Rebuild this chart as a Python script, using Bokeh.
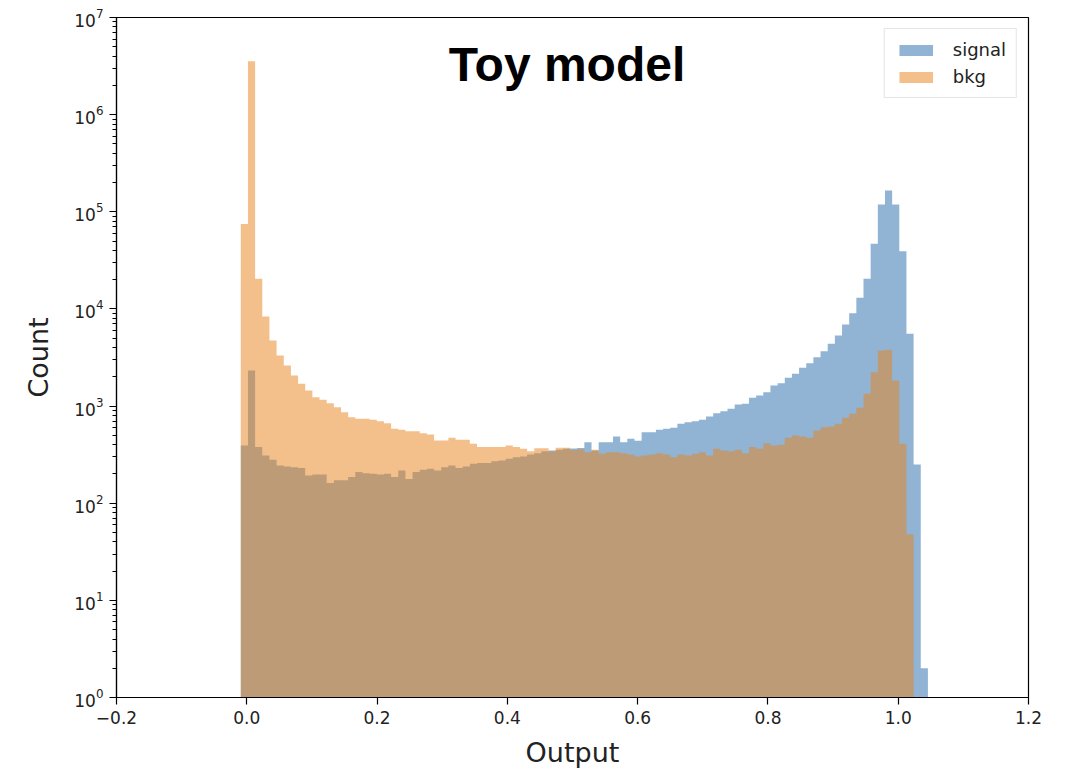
import numpy as np
from bokeh.plotting import figure
from bokeh.models import Range1d, Label, FixedTicker, CustomJSTickFormatter, LogTicker, Legend, LegendItem
from bokeh.embed import file_html
from bokeh.resources import INLINE

# ---- data ----
BIN_LO = -0.0092
BIN_HI = 1.0456
N_BINS = 96

signal_counts = [
    393, 2324, 378, 310, 280, 245, 239, 235, 231, 193,
    198, 198, 161, 172, 172, 186, 209, 204, 201, 198,
    201, 186, 217, 178, 209, 221, 226, 217, 235, 245,
    231, 239, 255, 259, 259, 271, 275, 287, 298, 303,
    318, 327, 343, 349, 355, 363, 365, 370, 425, 349,
    425, 425, 486, 425, 460, 440, 538, 538, 570, 583,
    597, 656, 683, 699, 722, 781, 845, 887, 938, 1038,
    1055, 1217, 1285, 1390, 1629, 1721, 1954, 2149, 2477, 2765,
    3186, 3675, 4376, 5329, 6921, 9043, 13000, 20400, 46800, 119000,
    165700, 119000, 39300, 5547, 250, 2,
]

bkg_counts = [
    75000, 3550000, 20400, 8360, 4730, 3315, 2617, 2065, 1694, 1446,
    1234, 1161, 1071, 975, 865, 769, 740, 740, 722, 699,
    667, 584, 569, 551, 551, 525, 510, 442, 442, 471,
    450, 450, 409, 378, 378, 378, 378, 393, 378, 363,
    343, 369, 369, 343, 372, 372, 352, 360, 335, 355,
    323, 335, 335, 327, 318, 303, 310, 318, 327, 318,
    298, 318, 310, 323, 335, 310, 363, 349, 343, 355,
    327, 378, 363, 415, 393, 400, 471, 498, 486, 471,
    560, 607, 617, 656, 757, 832, 960, 1337, 2233, 3735,
    3795, 1833, 409, 48, 0, 0,
]

series_names = ["signal", "bkg"]
series_colors = ["#2569a9", "#e78119"]
x_ticks = [-0.2, 0.0, 0.2, 0.4, 0.6, 0.8, 1.0, 1.2]
title_text = "Toy model"
x_label = "Output"
y_label = "Count"

edges = np.linspace(BIN_LO, BIN_HI, N_BINS + 1)


def step_source(counts):
    c = np.asarray(counts, dtype=float)
    c = np.where(c > 0, c, 1.0)          # empty bins sit on the axis floor (log scale)
    y = np.append(c, c[-1])
    return dict(x=edges, y1=np.ones(len(edges)), y2=y)


p = figure(
    width=1067, height=771,
    frame_width=912, frame_height=680,
    x_range=Range1d(-0.2, 1.2), y_range=Range1d(1, 1e7),
    y_axis_type="log",
    output_backend="svg", toolbar_location=None,
    min_border_left=116, min_border_right=39, min_border_top=17, min_border_bottom=74,
)
p.background_fill_color = "white"
p.border_fill_color = "white"
p.outline_line_color = "black"
p.outline_line_width = 1.2
p.xgrid.visible = False
p.ygrid.visible = False

r_sig = p.varea_step(source=step_source(signal_counts), x="x", y1="y1", y2="y2", step_mode="after",
                     fill_color=series_colors[0], fill_alpha=0.5)
r_bkg = p.varea_step(source=step_source(bkg_counts), x="x", y1="y1", y2="y2", step_mode="after",
                     fill_color=series_colors[1], fill_alpha=0.5)

# axes
xa = p.xaxis[0]
xa.ticker = FixedTicker(ticks=x_ticks)
xa.formatter = CustomJSTickFormatter(code="return (tick < -1e-9 ? '\u2212' : '') + Math.abs(tick).toFixed(1);")
ya = p.yaxis[0]
ya.ticker = LogTicker(num_minor_ticks=10)

for ax in (xa, ya):
    ax.axis_line_color = "black"
    ax.axis_line_width = 1.2
    ax.major_tick_line_color = "black"
    ax.major_tick_line_width = 1.2
    ax.major_tick_in = 0
    ax.major_tick_out = 7
    ax.minor_tick_line_color = "black"
    ax.minor_tick_in = 0
    ax.minor_tick_out = 4
    ax.major_label_text_font = "DejaVu Sans"
    ax.major_label_text_font_size = "17px"
    ax.major_label_text_color = "#222222"
    ax.major_label_standoff = 6
    ax.axis_label_text_font = "DejaVu Sans"
    ax.axis_label_text_font_size = "27px"
    ax.axis_label_text_font_style = "normal"
    ax.axis_label_text_color = "#222222"
    ax.axis_label_standoff = 10
xa.minor_tick_line_color = None
ya.axis_label_standoff = 17
xa.axis_label = x_label
ya.axis_label = y_label

# title inside plot
p.add_layout(Label(x=0.4916, y=10 ** 6.52, text=title_text, text_align="center",
                   text_baseline="alphabetic", text_font="Liberation Sans",
                   text_font_style="bold", text_font_size="48px", text_color="black"))

legend = Legend(items=[LegendItem(label=series_names[0], renderers=[r_sig]),
                       LegendItem(label=series_names[1], renderers=[r_bkg])],
                location="top_right")
legend.margin = 11
legend.padding = 10
legend.spacing = 6
legend.glyph_width = 42
legend.glyph_height = 14
legend.label_standoff = 16
legend.label_height = 20
legend.label_text_font = "DejaVu Sans"
legend.label_text_font_size = "18px"
legend.label_text_color = "#222222"
legend.border_line_color = "#cccccc"
legend.border_line_width = 1
legend.background_fill_alpha = 0.8
p.add_layout(legend)

open("out.html", "w").write(file_html(p, INLINE))
